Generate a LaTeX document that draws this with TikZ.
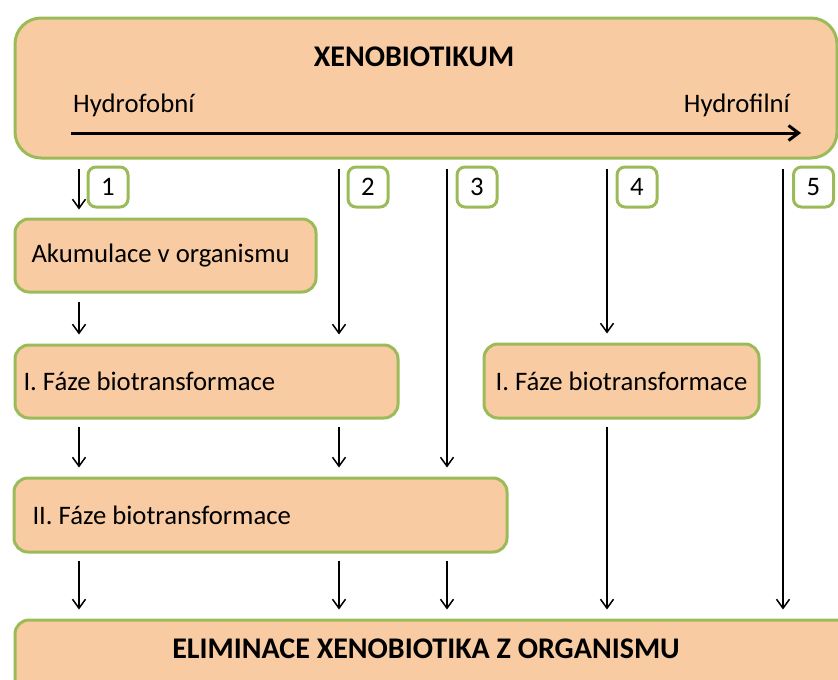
\documentclass[tikz,border=0pt]{standalone}
\usepackage{fontspec}
\setmainfont{Carlito}
\usetikzlibrary{arrows.meta}
\definecolor{peach}{HTML}{F9CBA3}
\definecolor{leaf}{HTML}{9BBB59}
\begin{document}
\begin{tikzpicture}[x=1pt,y=-1pt,
  box/.style={draw=leaf, line width=3pt, fill=peach, rounded corners=14pt,
    font=\fontsize{26.7}{32}\selectfont, inner ysep=0pt},
  numbox/.style={draw=leaf, line width=3pt, fill=white, rounded corners=8pt,
    minimum width=40pt, minimum height=40pt, inner sep=0pt,
    font=\fontsize{26.7}{32}\selectfont},
  txt/.style={inner sep=0pt, font=\fontsize{26.7}{32}\selectfont},
  bigtxt/.style={inner sep=0pt, font=\bfseries\fontsize{30}{35}\selectfont},
  arr/.style={line width=1.5pt, -{Straight Barb[length=9pt,width=13pt]}}
]
\path[use as bounding box, clip] (0,0) rectangle (838,680);

% top box
\node[box, rounded corners=26pt, minimum width=822pt, minimum height=140pt, anchor=north west] (top) at (13.5,16.5) {};
\node[bigtxt, anchor=base] (title) at (414,66) {XENOBIOTIKUM};
\node[txt, anchor=base west] (hfob) at (73,112) {Hydrofobní};
\node[txt, anchor=base east] (hfil) at (790,112) {Hydrofilní};
\coordinate (aL) at (71,133);
\coordinate (aR) at (801,133);
\draw[line width=3pt, -{Straight Barb[length=10pt,width=15pt]}] (aL) -- (aR);

% boxes
\node[box, anchor=north west, minimum height=73pt, inner xsep=16.5pt, text width=268pt, align=flush left] (akum) at (13.5,217.5) {Akumulace v organismu};
\node[box, anchor=north west, minimum height=73pt, inner xsep=8.5pt, text width=366pt, align=flush left] (f1L) at (13.5,343.5) {I. Fáze biotransformace};
\node[box, anchor=north west, minimum height=74pt, minimum width=275pt, inner xsep=0pt] (f1R) at (482.5,342.5) {I. Fáze biotransformace};
\node[box, anchor=north west, minimum height=74pt, inner xsep=18.5pt, text width=456pt, align=flush left] (f2) at (12.5,476.5) {II. Fáze biotransformace};
\node[box, anchor=north west, minimum height=100pt, minimum width=840pt] (bot) at (13.5,618.5) {};
\node[bigtxt, anchor=base] (elim) at (426,658) {ELIMINACE XENOBIOTIKA Z ORGANISMU};

% number boxes
\node[numbox] (n1) at (108,187) {1};
\node[numbox] (n2) at (368,187) {2};
\node[numbox] (n3) at (477,187) {3};
\node[numbox] (n4) at (637,187) {4};
\node[numbox] (n5) at (813.5,187) {5};

% x positions of the arrows
\coordinate (c1) at (79,0);
\coordinate (c2) at (339,0);
\coordinate (c3) at (447,0);
\coordinate (c4) at (607,0);
\coordinate (c5) at (783,0);

% from top box
\draw[arr] ([yshift=-9pt]top.south -| c1) -- ([yshift=8pt]akum.north -| c1);
\draw[arr] ([yshift=-9pt]top.south -| c2) -- ([yshift=9pt]f1L.north -| c2);
\draw[arr] ([yshift=-9pt]top.south -| c3) -- ([yshift=9pt]f2.north -| c3);
\draw[arr] ([yshift=-9pt]top.south -| c4) -- ([yshift=9pt]f1R.north -| c4);
\draw[arr] ([yshift=-9pt]top.south -| c5) -- ([yshift=9pt]bot.north -| c5);

% akumulace -> I. faze
\draw[arr] ([yshift=-8pt]akum.south -| c1) -- ([yshift=9pt]f1L.north -| c1);

% I. faze -> II. faze
\draw[arr] ([yshift=-7pt]f1L.south -| c1) -- ([yshift=9pt]f2.north -| c1);
\draw[arr] ([yshift=-7pt]f1L.south -| c2) -- ([yshift=9pt]f2.north -| c2);

% II. faze -> eliminace
\draw[arr] ([yshift=-7pt]f2.south -| c1) -- ([yshift=9pt]bot.north -| c1);
\draw[arr] ([yshift=-7pt]f2.south -| c2) -- ([yshift=9pt]bot.north -| c2);
\draw[arr] ([yshift=-7pt]f2.south -| c3) -- ([yshift=9pt]bot.north -| c3);

% I. faze right -> eliminace
\draw[arr] ([yshift=-7pt]f1R.south -| c4) -- ([yshift=9pt]bot.north -| c4);
\end{tikzpicture}
\end{document}
